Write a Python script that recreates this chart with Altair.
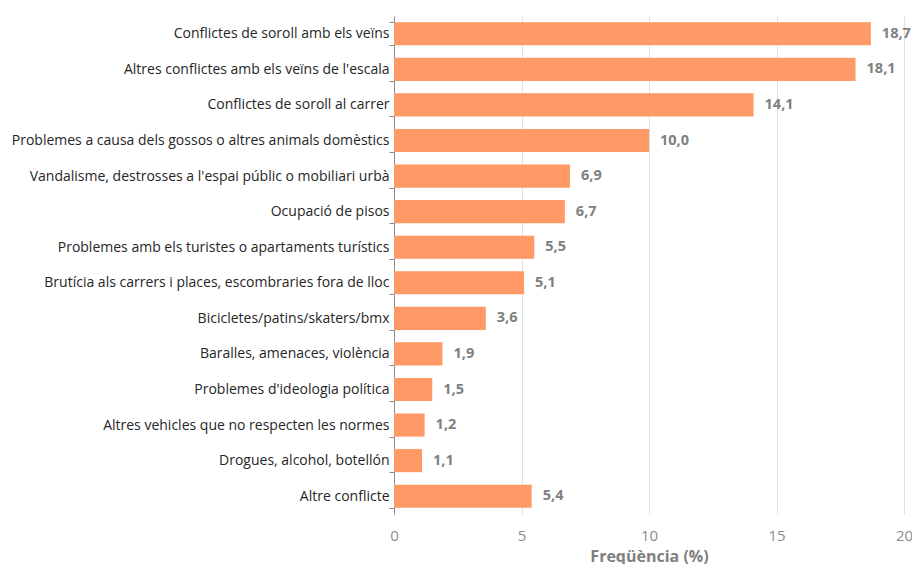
import altair as alt
import pandas as pd

categories = [
    "Conflictes de soroll amb els veïns",
    "Altres conflictes amb els veïns de l'escala",
    "Conflictes de soroll al carrer",
    "Problemes a causa dels gossos o altres animals domèstics",
    "Vandalisme, destrosses a l'espai públic o mobiliari urbà",
    "Ocupació de pisos",
    "Problemes amb els turistes o apartaments turístics",
    "Brutícia als carrers i places, escombraries fora de lloc",
    "Bicicletes/patins/skaters/bmx",
    "Baralles, amenaces, violència",
    "Problemes d'ideologia política",
    "Altres vehicles que no respecten les normes",
    "Drogues, alcohol, botellón",
    "Altre conflicte",
]
values = [18.7, 18.1, 14.1, 10.0, 6.9, 6.7, 5.5, 5.1, 3.6, 1.9, 1.5, 1.2, 1.1, 5.4]

df = pd.DataFrame({"cat": categories, "v": values})

FONT = "Open Sans"

y = alt.Y("cat:N", sort=categories, title=None,
          scale=alt.Scale(paddingInner=0.35, paddingOuter=0.175),
          axis=alt.Axis(labelFont=FONT, labelFontSize=14, labelColor="#262626",
                        labelPadding=0, domainColor="#8c8c8c", tickColor="#8c8c8c",
                        tickSize=5, tickBand="extent", grid=False, labelLimit=500))

x = alt.X("v:Q", title="Freqüència (%)",
          scale=alt.Scale(domain=[0, 20], nice=False),
          axis=alt.Axis(values=[0, 5, 10, 15, 20], labelFont=FONT, labelFontSize=15,
                        labelColor="#8c8c8c", ticks=False, domain=False, labelFlush=False,
                        grid=True, gridColor="#e0e0e0", labelPadding=14,
                        titleFont=FONT, titleFontSize=16, titleFontWeight="bold",
                        titleColor="#808080", titlePadding=5))

bars = alt.Chart(df).mark_bar(color="#FF9966").encode(x=x, y=y)

text = alt.Chart(df).transform_calculate(
    lab="replace(format(datum.v, '.1f'), '.', ',')"
).mark_text(align="left", dx=11, font=FONT, fontSize=14.5, fontWeight="bold",
            color="#808080").encode(
    x="v:Q", y=alt.Y("cat:N", sort=categories), text="lab:N")

chart = (bars + text).properties(
    width=510, height=498,
    padding={"left": 386, "top": 8, "right": 8, "bottom": 50},
    autosize=alt.AutoSizeParams(type="none"),
).configure_view(stroke=None).configure_axis(labelOverlap=False)

chart.save("out.html", embed_options={"renderer": "svg", "actions": False})
